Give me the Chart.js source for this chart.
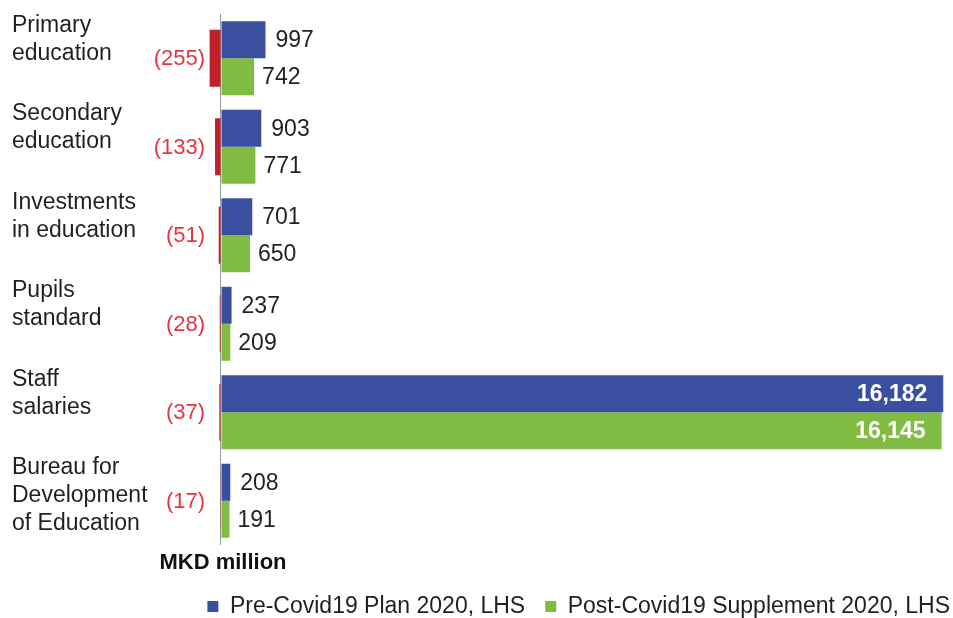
<!DOCTYPE html>
<html>
<head>
<meta charset="utf-8">
<script src="https://cdn.jsdelivr.net/npm/chart.js@4.4.1/dist/chart.umd.min.js"></script>
<style>
html, body { margin: 0; padding: 0; background: #fff; }
#wrap { width: 953px; height: 618px; }
</style>
</head>
<body>
<div id="wrap"><canvas id="chart"></canvas></div>
<script>
// data (MKD million)
var categories = [
    ['Primary', 'education'],
    ['Secondary', 'education'],
    ['Investments', 'in education'],
    ['Pupils', 'standard'],
    ['Staff', 'salaries'],
    ['Bureau for', 'Development', 'of Education']
];
var prePlan = [997, 903, 701, 237, 16182, 208];
var postSupplement = [742, 771, 650, 209, 16145, 191];
var change = [-255, -133, -51, -28, -37, -17];
var seriesNames = ['Pre-Covid19 Plan 2020, LHS', 'Post-Covid19 Supplement 2020, LHS'];
var unitLabel = 'MKD million';

var FONT = '"Liberation Sans", Arial, sans-serif';
var BLUE = '#3a4fa0', GREEN = '#80bc41', RED = '#c1202a', RED_TEXT = '#e8343f';

function fmt(v) {
    return String(Math.abs(v)).replace(/\B(?=(\d{3})+(?!\d))/g, ',');
}

// draws category names, bar values, the red change labels and the unit
var labelPlugin = {
    id: 'barLabels',
    afterDatasetsDraw: function (chart) {
        var ctx = chart.ctx;
        var yScale = chart.scales.y;
        var xScale = chart.scales.x;
        var band = yScale.getPixelForValue(1) - yScale.getPixelForValue(0);
        ctx.save();
        ctx.textBaseline = 'middle';

        ctx.font = '23px ' + FONT;
        ctx.fillStyle = '#231f20';
        ctx.textAlign = 'left';
        categories.forEach(function (lines, i) {
            var top = yScale.getPixelForValue(i) - band / 2;
            lines.forEach(function (t, k) {
                ctx.fillText(t, 12, top + 11.5 + k * 28);
            });
        });

        [0, 1].forEach(function (d) {
            var meta = chart.getDatasetMeta(d);
            var vals = chart.data.datasets[d].data;
            meta.data.forEach(function (bar, i) {
                var v = vals[i];
                if (v > 5000) {
                    ctx.font = 'bold 23px ' + FONT;
                    ctx.fillStyle = '#fff';
                    ctx.textAlign = 'right';
                    ctx.fillText(fmt(v), bar.x - 16, bar.y + 1);
                } else {
                    ctx.font = '23px ' + FONT;
                    ctx.fillStyle = '#231f20';
                    ctx.textAlign = 'left';
                    ctx.fillText(fmt(v), bar.x + (d === 0 ? 10 : 8), bar.y + 1);
                }
            });
        });

        var redMeta = chart.getDatasetMeta(2);
        ctx.font = '22px ' + FONT;
        ctx.fillStyle = RED_TEXT;
        ctx.textAlign = 'right';
        redMeta.data.forEach(function (bar, i) {
            ctx.fillText('(' + fmt(change[i]) + ')', 205, bar.y + 1);
        });

        ctx.font = 'bold 22px ' + FONT;
        ctx.fillStyle = '#111';
        ctx.textAlign = 'center';
        ctx.fillText(unitLabel, xScale.getPixelForValue(0) + 2, 563);
        ctx.restore();
    }
};

new Chart(document.getElementById('chart'), {
    type: 'bar',
    data: {
        labels: categories,
        datasets: [
            {
                label: seriesNames[0],
                data: prePlan,
                backgroundColor: BLUE,
                categoryPercentage: 0.836,
                barPercentage: 1.0
            },
            {
                label: seriesNames[1],
                data: postSupplement,
                backgroundColor: GREEN,
                categoryPercentage: 0.836,
                barPercentage: 1.0
            },
            {
                // change bar spans the whole pair, so it is not grouped
                label: 'Change',
                data: change,
                backgroundColor: RED,
                grouped: false,
                order: 1,
                categoryPercentage: 0.644,
                barPercentage: 1.0
            }
        ]
    },
    options: {
        indexAxis: 'y',
        responsive: true,
        maintainAspectRatio: false,
        animation: false,
        layout: { padding: { left: 12, top: 14, right: -17, bottom: -10 } },
        scales: {
            x: {
                min: -300,
                max: 16400,
                ticks: { display: false },
                grid: { color: '#9a9a9a', lineWidth: 1, drawTicks: false },
                border: { display: false },
                afterBuildTicks: function (s) { s.ticks = [{ value: 0 }]; },
                afterFit: function (s) { s.height = 30; }
            },
            y: {
                ticks: { display: false },
                grid: { display: false },
                border: { display: false },
                afterFit: function (s) { s.width = 195.6; }
            }
        },
        plugins: {
            tooltip: { enabled: false },
            legend: {
                position: 'bottom',
                align: 'end',
                labels: {
                    boxWidth: 11,
                    boxHeight: 11,
                    padding: 20,
                    color: '#231f20',
                    font: { family: FONT, size: 23 },
                    filter: function (item) { return item.datasetIndex < 2; }
                }
            }
        }
    },
    plugins: [labelPlugin]
});
</script>
</body>
</html>
